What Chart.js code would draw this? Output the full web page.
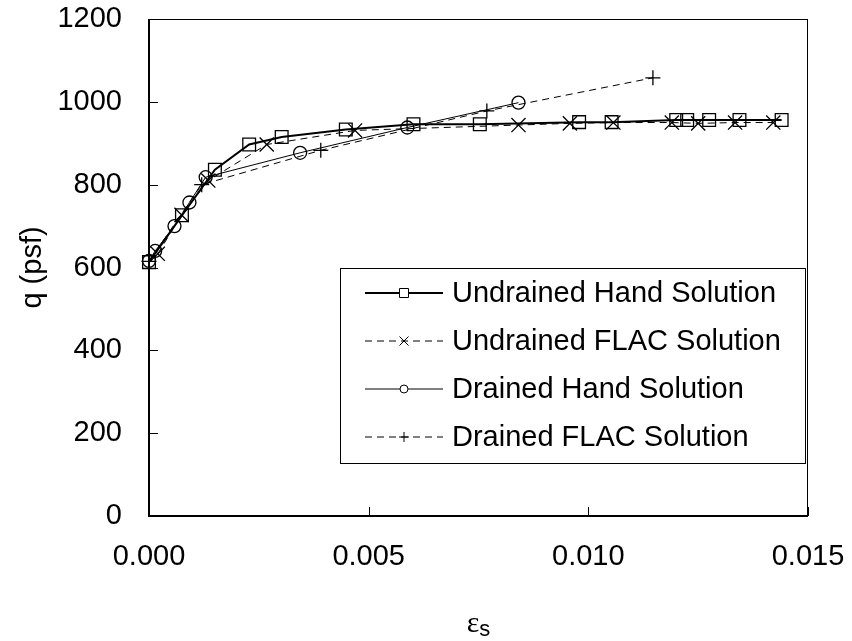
<!DOCTYPE html>
<html>
<head>
<meta charset="utf-8">
<script src="https://cdn.jsdelivr.net/npm/chart.js@4.4.1/dist/chart.umd.min.js"></script>
<style>
  html, body { margin: 0; padding: 0; background: #fff; }
</style>
</head>
<body>
<canvas id="grafico" width="852" height="641"></canvas>
<script>
// Undrained Hand Solution
const strainUH = [0, 0.00075, 0.0015, 0.00228, 0.00302, 0.00448, 0.00602, 0.00753, 0.00979, 0.01053, 0.0120, 0.01225, 0.01275, 0.01344, 0.0144];
const qUH = [613, 726, 836, 897, 915, 933, 946, 946, 951, 951, 956, 956, 956, 956, 956];

// Undrained FLAC Solution
const strainUF = [0.0002, 0.00074, 0.00135, 0.00268, 0.00469, 0.00841, 0.00958, 0.01057, 0.0119, 0.0125, 0.01334, 0.01421];
const qUF = [633, 727, 810, 897, 931, 944, 948, 950, 950, 948, 950, 950];

// Drained Hand Solution
const strainDH = [0, 0.00014, 0.00058, 0.00092, 0.00129, 0.00344, 0.00588, 0.00841];
const qDH = [616, 640, 700, 757, 818, 877, 938, 998];

// Drained FLAC Solution
const strainDF = [0, 0.0012, 0.00391, 0.00769, 0.01147];
const qDF = [615, 800, 883, 978, 1058];

const xTicks = [0, 0.005, 0.010, 0.015];
const yTicks = [0, 200, 400, 600, 800, 1000, 1200];

const FUENTE = "'Liberation Sans', Arial, sans-serif";

function puntos(xs, ys) {
  return xs.map((x, i) => ({ x: x, y: ys[i] }));
}

// marco, marcas hacia adentro, titulo del eje x y leyenda
const marcoPlugin = {
  id: "marco",
  beforeDatasetsDraw(chart) {
    const ctx = chart.ctx;
    const a = chart.chartArea;
    const sx = chart.scales.x, sy = chart.scales.y;
    ctx.save();
    ctx.strokeStyle = "#000";
    ctx.lineWidth = 1;
    ctx.strokeRect(a.left + 0.5, a.top + 0.5, a.right - a.left - 1, a.bottom - a.top - 1);
    ctx.lineWidth = 2;
    ctx.beginPath();
    ctx.moveTo(a.left, a.top);
    ctx.lineTo(a.left, a.bottom);
    ctx.lineTo(a.right, a.bottom);
    ctx.stroke();
    ctx.lineWidth = 1;
    ctx.beginPath();
    yTicks.forEach(v => {
      const py = Math.round(sy.getPixelForValue(v)) + 0.5;
      ctx.moveTo(a.left, py);
      ctx.lineTo(a.left + 9, py);
    });
    xTicks.forEach(v => {
      const px = Math.round(sx.getPixelForValue(v)) + 0.5;
      ctx.moveTo(px, a.bottom);
      ctx.lineTo(px, a.bottom - 9);
    });
    ctx.stroke();
    ctx.restore();
  },
  afterDraw(chart) {
    const ctx = chart.ctx;
    const a = chart.chartArea;
    ctx.save();
    // titulo eje x: epsilon con subindice s
    const cx = (a.left + a.right) / 2;
    ctx.fillStyle = "#000";
    ctx.textBaseline = "alphabetic";
    ctx.font = "30px 'Liberation Serif', serif";
    const wE = ctx.measureText("ε").width;
    ctx.font = "22px " + FUENTE;
    const wS = ctx.measureText("s").width;
    const x0 = cx - (wE + wS) / 2;
    ctx.font = "30px 'Liberation Serif', serif";
    ctx.textAlign = "left";
    ctx.fillText("ε", x0, 632);
    ctx.font = "22px " + FUENTE;
    ctx.fillText("s", x0 + wE, 636);

    // leyenda
    const box = { x: 340, y: 268, w: 465, h: 195 };
    ctx.fillStyle = "#fff";
    ctx.fillRect(box.x, box.y, box.w, box.h);
    ctx.strokeStyle = "#000";
    ctx.lineWidth = 1;
    ctx.strokeRect(box.x + 0.5, box.y + 0.5, box.w, box.h);
    chart.data.datasets.forEach((ds, i) => {
      const y = box.y + 25 + i * 48;
      ctx.save();
      ctx.strokeStyle = ds.borderColor;
      ctx.lineWidth = ds.borderWidth;
      ctx.setLineDash(ds.borderDash || []);
      ctx.beginPath();
      ctx.moveTo(box.x + 25, y);
      ctx.lineTo(box.x + 103, y);
      ctx.stroke();
      ctx.setLineDash([]);
      ctx.lineWidth = 1;
      ctx.fillStyle = "#fff";
      const mx = box.x + 64;
      ctx.beginPath();
      if (ds.pointStyle === "rect") {
        ctx.fillRect(mx - 4.5, y - 4.5, 9, 9);
        ctx.rect(mx - 4.5, y - 4.5, 9, 9);
      } else if (ds.pointStyle === "circle") {
        ctx.arc(mx, y, 4, 0, Math.PI * 2);
        ctx.fill();
      } else if (ds.pointStyle === "crossRot") {
        ctx.moveTo(mx - 4.5, y - 4.5); ctx.lineTo(mx + 4.5, y + 4.5);
        ctx.moveTo(mx - 4.5, y + 4.5); ctx.lineTo(mx + 4.5, y - 4.5);
      } else {
        ctx.moveTo(mx - 5, y); ctx.lineTo(mx + 5, y);
        ctx.moveTo(mx, y - 5); ctx.lineTo(mx, y + 5);
      }
      ctx.stroke();
      ctx.restore();
      ctx.fillStyle = "#000";
      ctx.font = "29px " + FUENTE;
      ctx.textAlign = "left";
      ctx.textBaseline = "middle";
      ctx.fillText(ds.label, box.x + 112, y + 1);
    });
    ctx.restore();
  }
};

new Chart(document.getElementById("grafico"), {
  type: "scatter",
  data: {
    datasets: [
      {
        label: "Undrained Hand Solution",
        data: puntos(strainUH, qUH),
        showLine: true,
        borderColor: "#000",
        borderWidth: 2,
        pointStyle: "rect",
        pointRadius: 9,
        pointBorderWidth: 1.3,
        pointBorderColor: "#000",
        pointBackgroundColor: "rgba(0,0,0,0)"
      },
      {
        label: "Undrained FLAC Solution",
        data: puntos(strainUF, qUF),
        showLine: true,
        borderColor: "#000",
        borderWidth: 1,
        borderDash: [7, 5],
        pointStyle: "crossRot",
        pointRadius: 10,
        pointBorderWidth: 1.3,
        pointBorderColor: "#000",
        pointBackgroundColor: "rgba(0,0,0,0)"
      },
      {
        label: "Drained Hand Solution",
        data: puntos(strainDH, qDH),
        showLine: true,
        borderColor: "#000",
        borderWidth: 1,
        pointStyle: "circle",
        pointRadius: 6.5,
        pointBorderWidth: 1.3,
        pointBorderColor: "#000",
        pointBackgroundColor: "rgba(0,0,0,0)"
      },
      {
        label: "Drained FLAC Solution",
        data: puntos(strainDF, qDF),
        showLine: true,
        borderColor: "#000",
        borderWidth: 1,
        borderDash: [7, 5],
        pointStyle: "cross",
        pointRadius: 7.5,
        pointBorderWidth: 1.3,
        pointBorderColor: "#000",
        pointBackgroundColor: "rgba(0,0,0,0)"
      }
    ]
  },
  options: {
    responsive: false,
    animation: false,
    clip: false,
    layout: { autoPadding: false, padding: { top: 19, right: 44, bottom: 0, left: 0 } },
    plugins: {
      legend: { display: false },
      tooltip: { enabled: false }
    },
    scales: {
      x: {
        type: "linear",
        min: 0,
        max: 0.015,
        afterFit: s => { s.height = 125; s.paddingLeft = 0; s.paddingRight = 0; },
        afterBuildTicks: s => { s.ticks = xTicks.map(v => ({ value: v })); },
        grid: { display: false, drawTicks: false },
        border: { display: false },
        ticks: {
          padding: 24,
          color: "#000",
          font: { family: FUENTE, size: 29 },
          callback: v => v.toFixed(3)
        }
      },
      y: {
        type: "linear",
        min: 0,
        max: 1200,
        afterFit: s => { s.width = 149; s.paddingTop = 0; s.paddingBottom = 0; },
        afterBuildTicks: s => { s.ticks = yTicks.map(v => ({ value: v })); },
        grid: { display: false, drawTicks: false },
        border: { display: false },
        ticks: {
          padding: 27,
          color: "#000",
          font: { family: FUENTE, size: 29 },
          callback: v => String(v)
        },
        title: {
          display: true,
          text: "q (psf)",
          color: "#000",
          font: { family: FUENTE, size: 29 },
          padding: { top: 16, bottom: 0 }
        }
      }
    }
  },
  plugins: [marcoPlugin]
});
</script>
</body>
</html>
